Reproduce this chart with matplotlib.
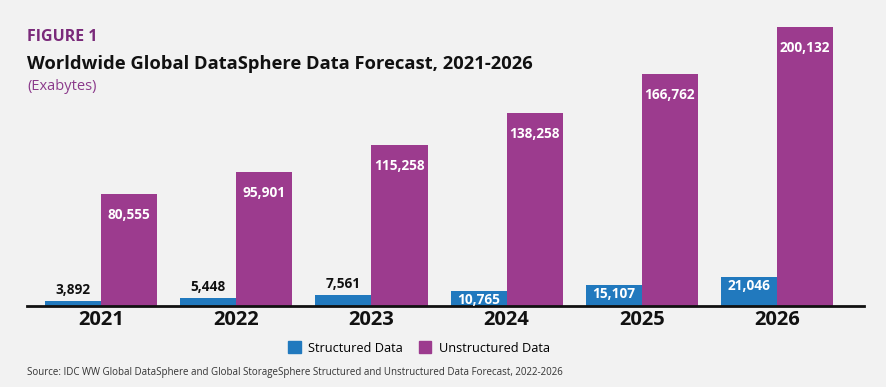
import matplotlib
matplotlib.use("Agg")
import matplotlib.pyplot as plt
import numpy as np
from matplotlib.patches import Patch

years = ["2021", "2022", "2023", "2024", "2025", "2026"]
structured = [3892, 5448, 7561, 10765, 15107, 21046]
unstructured = [80555, 95901, 115258, 138258, 166762, 200132]
series_names = ["Structured Data", "Unstructured Data"]

BLUE = "#2179be"
PURPLE = "#9c3b8e"
BG = "#f2f2f2"
FONT = ["Open Sans", "DejaVu Sans"]

W, H = 887, 387
fig = plt.figure(figsize=(W / 100, H / 100), dpi=100, facecolor=BG)
ax = fig.add_axes([27 / W, 81 / H, (864 - 27) / W, 279 / H])
ax.set_facecolor(BG)

x = np.arange(len(years))
bw = 0.415
ax.bar(x - bw / 2, structured, bw, color=BLUE)
ax.bar(x + bw / 2, unstructured, bw, color=PURPLE)
ax.set_xlim(-0.547, 5.643)
ax.set_ylim(0, 200132)

for i in range(len(years)):
    ax.annotate(f"{unstructured[i]:,}", (x[i] + bw / 2, unstructured[i]), xytext=(0, -21),
                textcoords="offset pixels", ha="center", va="center", color="white",
                fontsize=9.8, fontweight="bold", family=FONT)
    if structured[i] < 10000:
        ax.annotate(f"{structured[i]:,}", (x[i] - bw / 2, structured[i]), xytext=(0, 11),
                    textcoords="offset pixels", ha="center", va="center", color="#111111",
                    fontsize=9.8, fontweight="bold", family=FONT)
    else:
        ax.annotate(f"{structured[i]:,}", (x[i] - bw / 2, structured[i]), xytext=(0, -9),
                    textcoords="offset pixels", ha="center", va="center", color="white",
                    fontsize=9.8, fontweight="bold", family=FONT)

for s in ["top", "right", "left"]:
    ax.spines[s].set_visible(False)
ax.spines["bottom"].set_linewidth(2)
ax.spines["bottom"].set_color("#111111")
ax.set_yticks([])
ax.set_xticks(x)
ax.set_xticklabels(years, fontsize=14.5, fontweight="bold", family=FONT, color="#111111")
ax.tick_params(axis="x", length=0, pad=3)

fig.text(27 / W, 1 - 37 / H, "FIGURE 1", color="#7a2a7a", fontsize=11.5, fontweight="bold",
         family=FONT, va="center")
fig.text(27 / W, 1 - 64 / H, "Worldwide Global DataSphere Data Forecast, 2021-2026",
         color="#111111", fontsize=13.2, fontweight="bold", family=FONT, va="center")
fig.text(27 / W, 1 - 86 / H, "(Exabytes)", color="#8b3a8b", fontsize=10.5, family=FONT, va="center")

handles = [Patch(color=BLUE), Patch(color=PURPLE)]
fig.legend(handles, series_names, loc="center", bbox_to_anchor=(419 / W, 1 - 348 / H), ncol=2,
           frameon=False, prop={"family": FONT, "size": 9.2}, handlelength=1.0, handleheight=1.0,
           columnspacing=1.2, handletextpad=0.6)

fig.text(27 / W, 1 - 372 / H,
         "Source: IDC WW Global DataSphere and Global StorageSphere Structured and Unstructured Data Forecast, 2022-2026",
         color="#333333", fontsize=7.0, family=FONT, va="center")

fig.savefig("out.png", dpi=100, facecolor=BG)
